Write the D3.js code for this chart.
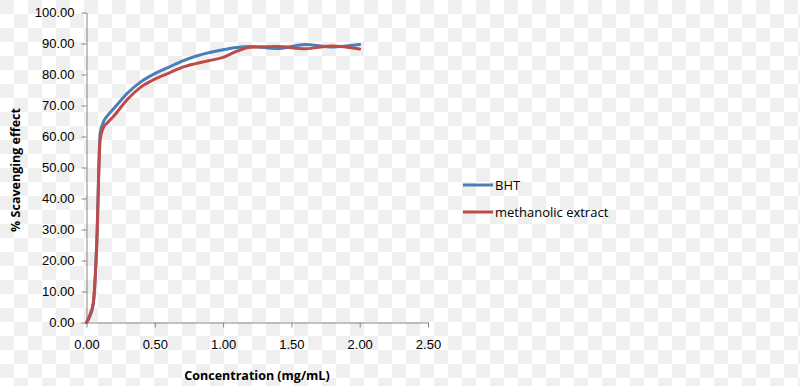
<!DOCTYPE html>
<html>
<head>
<meta charset="utf-8">
<script src="https://cdn.jsdelivr.net/npm/d3@7"></script>
<style>
  body { margin: 0; background: #fff; }
  svg { display: block; font-family: "Open Sans", "Noto Sans", sans-serif; }
  .axis path, .axis line { stroke: #868686; }
  .axis text { fill: #000; font-size: 13px; }
  .axis-label { font-weight: bold; font-size: 12.5px; }
</style>
</head>
<body>
<svg id="chart" width="800" height="386"></svg>
<script>

// concentrations (mg/mL)
var bhtConc = [0, 0.025, 0.05, 0.075, 0.1, 0.125, 0.15, 0.2, 0.3, 0.4, 0.5, 0.6, 0.7, 0.8, 0.9, 1.0, 1.1, 1.2, 1.4, 1.6, 1.8, 2.0];
var bhtVals = [0, 2, 6, 26, 61, 64.8, 66.5, 69, 74, 77.7, 80.3, 82.3, 84.3, 85.9, 87.1, 88, 88.7, 89, 88.4, 89.7, 88.9, 89.7];

var extConc = [0, 0.025, 0.05, 0.075, 0.1, 0.125, 0.15, 0.2, 0.3, 0.4, 0.5, 0.6, 0.7, 0.8, 0.9, 1.0, 1.1, 1.2, 1.4, 1.6, 1.8, 2.0];
var extVals = [0, 2.5, 6.5, 25, 59, 63, 64.3, 66.6, 72, 76, 78.5, 80.4, 82.3, 83.5, 84.5, 85.5, 87.5, 88.8, 89, 88.3, 89.2, 88.2];

var xTicks = [0, 0.5, 1.0, 1.5, 2.0, 2.5];
var yTicks = [0, 10, 20, 30, 40, 50, 60, 70, 80, 90, 100];

var seriesNames = ["BHT", "methanolic extract"];
var seriesColours = ["#4a7ebb", "#be4b48"];

var svg = d3.select("#chart");

// transparency-style checkerboard behind the chart
var defs = svg.append("defs");
var pat = defs.append("pattern")
    .attr("id", "checker")
    .attr("width", 28).attr("height", 28)
    .attr("patternUnits", "userSpaceOnUse");
pat.append("rect").attr("width", 28).attr("height", 28).attr("fill", "#ffffff");
pat.append("rect").attr("width", 14).attr("height", 14).attr("fill", "#efefef");
pat.append("rect").attr("x", 14).attr("y", 14).attr("width", 14).attr("height", 14).attr("fill", "#efefef");
svg.append("rect").attr("width", 800).attr("height", 386).attr("fill", "url(#checker)");

var margin = {left: 86.5, top: 12.5},
    width = 341.5,
    height = 310;

var g = svg.append("g")
    .attr("transform", "translate(" + margin.left + "," + margin.top + ")");

var x = d3.scaleLinear().domain([0, 2.5]).range([0, width]);
var y = d3.scaleLinear().domain([0, 100]).range([height, 0]);

var xAxis = d3.axisBottom(x).tickValues(xTicks).tickSize(5).tickSizeOuter(0)
    .tickFormat(d3.format(".2f")).tickPadding(12);
var yAxis = d3.axisLeft(y).tickValues(yTicks).tickSize(5).tickSizeOuter(0)
    .tickFormat(d3.format(".2f")).tickPadding(7);

g.append("g")
    .attr("class", "x axis")
    .attr("transform", "translate(0," + height + ")")
    .call(xAxis);

g.append("g")
    .attr("class", "y axis")
    .call(yAxis);

g.selectAll(".axis text").style("font-family", "inherit");

// axis titles
svg.append("text")
    .attr("class", "axis-label")
    .attr("x", 257)
    .attr("y", 380)
    .attr("text-anchor", "middle")
    .text("Concentration (mg/mL)");

svg.append("text")
    .attr("class", "axis-label")
    .attr("transform", "translate(20,170) rotate(-90)")
    .attr("text-anchor", "middle")
    .text("% Scavenging effect");

var line = d3.line()
    .x(function(d) { return x(d[0]); })
    .y(function(d) { return y(d[1]); })
    .curve(d3.curveMonotoneX);

var series = [
    d3.zip(bhtConc, bhtVals),
    d3.zip(extConc, extVals)
];

series.forEach(function(s, i) {
    g.append("path")
        .datum(s)
        .attr("fill", "none")
        .attr("stroke", seriesColours[i])
        .attr("stroke-width", 3)
        .attr("stroke-linejoin", "round")
        .attr("stroke-linecap", "round")
        .attr("d", line);
});

// legend
var legend = svg.append("g").attr("transform", "translate(463,185)");
seriesNames.forEach(function(name, i) {
    var row = legend.append("g").attr("transform", "translate(0," + (i * 27) + ")");
    row.append("line")
        .attr("x1", 0).attr("x2", 30)
        .attr("stroke", seriesColours[i])
        .attr("stroke-width", 3);
    row.append("text")
        .attr("x", 32)
        .attr("y", 4.5)
        .style("font-size", "13px")
        .text(name);
});
</script>
</body>
</html>
